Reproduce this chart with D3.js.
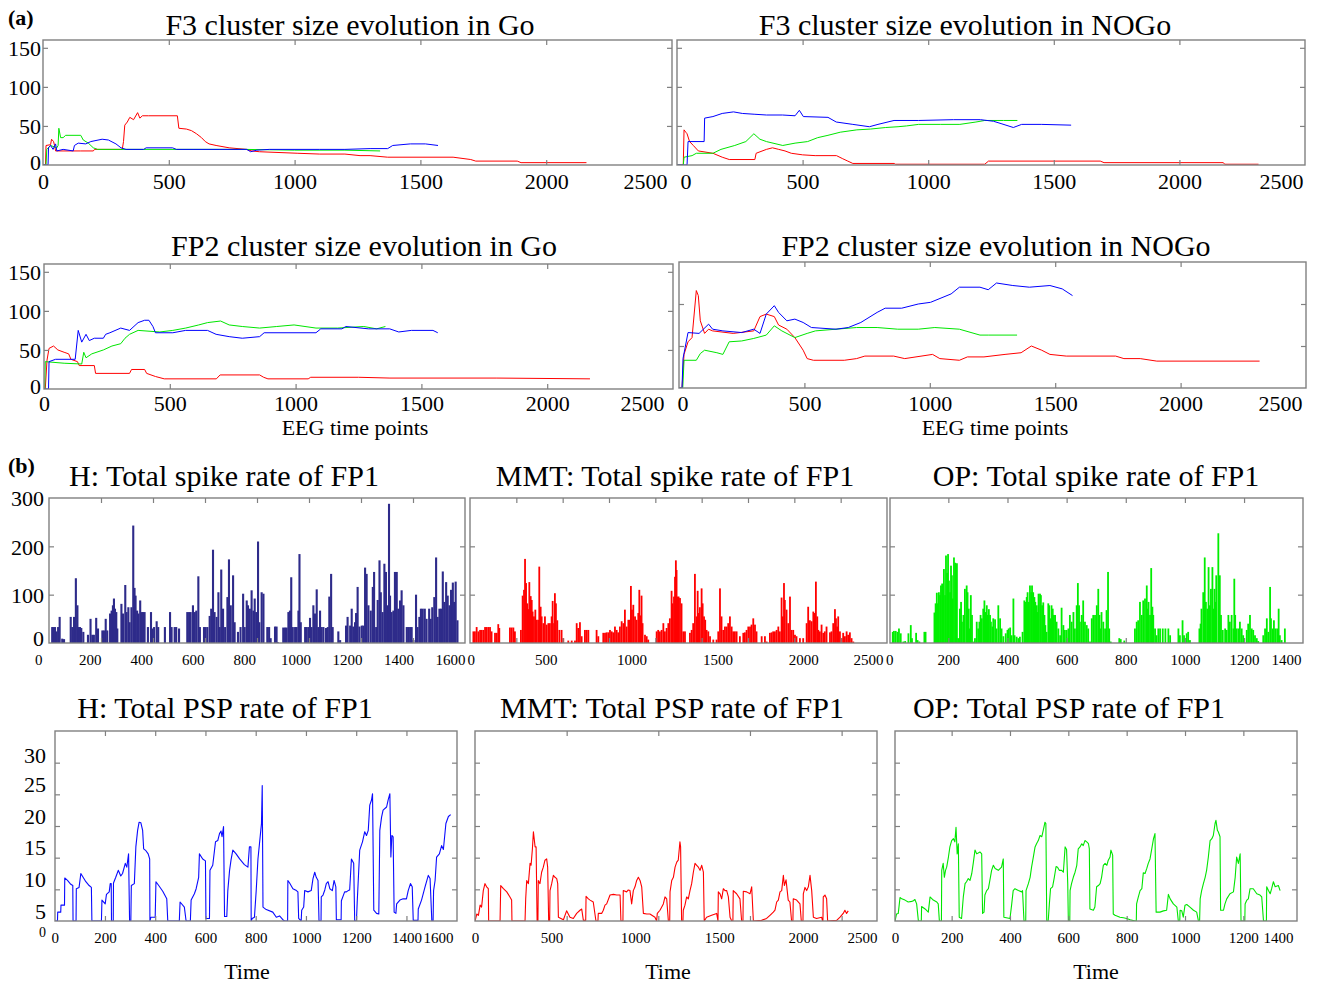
<!DOCTYPE html>
<meta charset="utf-8">
<body style="margin:0;background:#fff">
<script src="https://d3js.org/d3.v7.min.js"></script>
<script>

// ---------- tick labels ----------
var clusterXTicks = [0, 500, 1000, 1500, 2000, 2500];
var clusterYTicks = [0, 50, 100, 150];
var spikeYTicks = [0, 100, 200, 300];
var pspYTicks = [0, 5, 10, 15, 20, 25, 30];
var hTicks = [0, 200, 400, 600, 800, 1000, 1200, 1400, 1600];
var mmtTicks = [0, 500, 1000, 1500, 2000, 2500];
var opTicks = [0, 200, 400, 600, 800, 1000, 1200, 1400];

// ---------- (a) cluster size evolution ----------
var f3GoRed = [[0,0],[10,0],[12,25],[30,26],[34,33],[42,30],[46,25],[50,18],[150,18],[200,18],[205,20],[315,20],[320,30],[325,51],[335,55],[345,61],[360,58],[376,67],[385,60],[395,63],[420,63],[534,63],[540,47],[570,46],[590,44],[610,40],[630,35],[645,30],[660,27],[688,25],[740,22],[808,20],[830,18],[860,17],[1013,15],[1100,14],[1200,14],[1260,12],[1300,12],[1370,10],[1630,10],[1700,7],[1720,5],[1885,5],[1900,3],[2160,3]];
var f3GoGreen = [[0,0],[12,0],[15,20],[30,25],[55,22],[60,25],[63,47],[70,35],[80,35],[90,38],[150,38],[160,32],[180,28],[200,22],[217,20],[400,20],[600,20],[800,20],[1000,19],[1200,19],[1340,18]];
var f3GoBlue = [[0,0],[20,0],[22,22],[30,25],[40,20],[50,27],[55,18],[80,20],[120,18],[125,25],[140,28],[170,27],[190,30],[235,33],[260,32],[290,27],[310,22],[330,20],[400,20],[410,22],[515,22],[530,20],[700,20],[810,20],[825,17],[850,19],[900,20],[1100,20],[1200,20],[1300,21],[1370,21],[1390,25],[1460,27],[1520,27],[1570,25]];

var f3NoGoRed = [[0,0],[25,0],[28,45],[35,42],[40,40],[50,30],[65,25],[85,18],[143,15],[180,10],[208,7],[310,7],[315,15],[356,20],[380,22],[405,20],[430,18],[455,15],[500,13],[550,12],[635,12],[660,8],[680,5],[700,2],[865,2],[870,1],[1225,1],[1240,5],[1685,5],[1700,3],[2175,3],[2180,1],[2315,1]];
var f3NoGoGreen = [[0,0],[25,0],[28,10],[60,12],[77,15],[143,15],[175,20],[230,25],[274,30],[306,40],[330,33],[356,30],[421,25],[470,28],[520,30],[560,35],[601,38],[650,42],[716,45],[770,46],[831,48],[880,49],[913,50],[962,52],[1050,52],[1126,52],[1190,55],[1225,57],[1300,57],[1355,57]];
var f3NoGoBlue = [[0,0],[40,0],[44,30],[108,30],[110,60],[143,62],[180,66],[225,68],[260,66],[307,65],[356,64],[420,64],[470,63],[487,70],[503,62],[601,61],[634,55],[700,52],[766,49],[800,52],[864,57],[962,57],[1100,58],[1208,58],[1260,56],[1290,53],[1339,48],[1372,52],[1450,52],[1569,51]];

var fp2GoRed = [[0,0],[5,0],[12,37],[20,52],[38,55],[55,50],[80,47],[98,45],[107,38],[133,35],[140,30],[200,30],[205,20],[340,20],[348,25],[400,25],[408,20],[443,16],[478,13],[685,13],[700,18],[857,18],[873,15],[890,13],[1050,13],[1060,15],[1250,15],[1375,14],[1800,14],[2170,13]];
var fp2GoGreen = [[0,0],[3,0],[5,35],[80,33],[150,32],[158,47],[167,40],[190,45],[236,50],[270,55],[305,58],[322,65],[340,70],[374,75],[460,73],[512,75],[563,78],[615,82],[650,85],[702,87],[736,82],[788,80],[857,78],[925,80],[994,82],[1081,78],[1167,78],[1271,80],[1322,77],[1357,80]];
var fp2GoBlue = [[0,0],[18,0],[20,35],[46,38],[124,38],[136,75],[150,60],[167,70],[180,62],[200,65],[236,65],[245,70],[262,72],[305,78],[340,75],[374,85],[400,88],[417,88],[433,80],[443,72],[512,72],[563,75],[650,75],[684,70],[736,67],[788,65],[857,67],[875,72],[1081,72],[1100,77],[1184,77],[1200,80],[1290,77],[1374,77],[1410,73],[1460,75],[1546,75],[1565,72]];

var fp2NoGoRed = [[0,0],[12,0],[20,40],[36,55],[52,60],[69,116],[77,110],[85,80],[102,65],[118,70],[134,68],[216,65],[298,68],[323,85],[348,88],[380,85],[397,75],[430,70],[462,60],[495,45],[511,35],[536,33],[659,33],[708,35],[741,38],[856,38],[900,35],[1011,40],[1040,35],[1118,33],[1150,37],[1216,37],[1300,40],[1364,42],[1405,50],[1446,45],[1479,40],[1544,38],[1741,38],[1774,35],[1839,35],[1905,32],[2315,32]];
var fp2NoGoGreen = [[0,0],[15,0],[20,33],[69,33],[85,41],[102,45],[151,42],[175,40],[200,55],[250,56],[298,59],[348,63],[380,74],[410,68],[462,60],[511,65],[544,68],[626,70],[708,72],[790,72],[872,70],[954,70],[1020,72],[1118,70],[1200,63],[1233,63],[1348,63]];
var fp2NoGoBlue = [[0,0],[12,0],[16,35],[36,66],[80,65],[118,76],[134,70],[175,68],[250,66],[298,70],[323,65],[348,88],[380,98],[397,90],[430,80],[462,82],[495,78],[528,72],[626,70],[675,72],[725,78],[790,90],[822,95],[888,95],[954,100],[1003,102],[1085,112],[1118,120],[1200,120],[1233,117],[1266,125],[1331,122],[1397,120],[1479,122],[1528,118],[1569,110]];

// ---------- (b) total spike rate of FP1 ----------
var spikeH = [[54,33],[58,33],[65,33],[71,24],[77,33],[83,54],[93,9],[100,8],[126,54],[132,33],[139,54],[146,134],[152,78],[156,33],[162,33],[167,31],[175,23],[193,17],[203,50],[210,17],[216,17],[225,52],[232,30],[249,26],[255,26],[262,50],[268,26],[279,61],[285,67],[290,78],[294,92],[298,71],[303,64],[307,30],[323,81],[329,61],[338,120],[343,64],[350,74],[355,43],[362,74],[369,243],[374,114],[378,98],[384,67],[389,61],[396,88],[402,64],[407,64],[413,64],[426,33],[438,64],[443,30],[450,33],[460,45],[466,33],[492,33],[512,64],[518,33],[530,33],[536,33],[547,30],[579,64],[586,64],[592,64],[601,78],[608,64],[614,67],[622,138],[628,33],[644,33],[650,33],[657,33],[666,56],[672,71],[679,193],[685,64],[693,54],[700,105],[705,33],[711,152],[718,71],[726,33],[735,95],[741,173],[748,78],[757,140],[763,43],[776,23],[786,33],[796,102],[802,33],[810,88],[815,78],[822,71],[829,109],[836,67],[841,92],[847,64],[854,210],[859,43],[868,105],[875,102],[890,33],[897,33],[903,10],[920,34],[926,34],[930,2],[952,32],[959,32],[965,32],[972,64],[978,67],[983,136],[989,33],[998,33],[1004,33],[1011,67],[1015,184],[1020,43],[1037,33],[1043,33],[1050,33],[1056,52],[1062,33],[1069,78],[1075,61],[1082,111],[1088,33],[1095,67],[1101,33],[1108,33],[1118,31],[1125,33],[1131,96],[1138,143],[1144,33],[1166,24],[1173,6],[1196,36],[1202,54],[1212,36],[1218,71],[1224,34],[1231,43],[1235,62],[1241,116],[1248,34],[1257,36],[1263,36],[1270,156],[1276,143],[1283,78],[1292,67],[1300,116],[1305,147],[1313,33],[1319,89],[1326,171],[1331,105],[1338,64],[1345,164],[1351,147],[1358,78],[1363,288],[1367,98],[1373,64],[1380,67],[1386,147],[1393,147],[1399,71],[1406,88],[1412,109],[1419,78],[1432,33],[1438,33],[1445,33],[1451,33],[1458,6],[1468,100],[1474,33],[1481,54],[1487,71],[1494,71],[1502,71],[1509,50],[1519,71],[1525,50],[1531,74],[1539,95],[1546,177],[1552,54],[1559,71],[1565,71],[1572,148],[1578,85],[1585,126],[1591,98],[1598,78],[1604,110],[1611,125],[1616,85],[1622,127],[1629,47]];

var spikeMMT = [[78,24],[87,24],[97,33],[107,24],[117,27],[126,27],[136,27],[146,33],[155,33],[165,33],[175,33],[184,24],[204,21],[214,21],[223,39],[229,31],[291,32],[301,32],[311,32],[320,24],[355,27],[365,98],[373,110],[379,174],[385,124],[392,82],[398,70],[404,126],[412,97],[418,89],[423,65],[431,55],[439,69],[447,48],[456,48],[462,158],[470,75],[476,55],[486,41],[495,55],[505,38],[515,41],[524,41],[534,55],[540,87],[548,41],[553,103],[559,82],[567,47],[579,27],[592,27],[602,10],[631,5],[651,5],[670,5],[680,41],[689,31],[699,43],[709,14],[728,27],[738,27],[748,27],[796,27],[806,14],[835,21],[845,21],[854,22],[864,22],[874,27],[884,24],[893,22],[903,34],[913,27],[922,22],[932,34],[942,45],[952,41],[961,69],[971,34],[981,48],[990,48],[996,118],[1002,69],[1010,79],[1020,55],[1029,48],[1039,62],[1045,110],[1053,57],[1058,98],[1064,41],[1078,17],[1088,14],[1097,7],[1146,24],[1155,27],[1165,24],[1175,27],[1185,41],[1194,24],[1204,31],[1214,41],[1223,51],[1233,108],[1239,82],[1247,96],[1253,137],[1258,171],[1262,151],[1268,96],[1274,96],[1282,93],[1291,82],[1301,24],[1311,24],[1340,21],[1350,27],[1359,41],[1369,143],[1379,55],[1385,108],[1391,62],[1398,74],[1408,113],[1414,82],[1422,55],[1429,48],[1437,27],[1447,24],[1457,14],[1476,7],[1495,7],[1505,24],[1515,113],[1524,55],[1534,27],[1544,34],[1554,34],[1563,41],[1573,55],[1583,34],[1592,24],[1602,24],[1612,24],[1631,14],[1651,21],[1660,22],[1670,27],[1680,34],[1690,34],[1699,38],[1709,51],[1719,38],[1728,24],[1758,14],[1777,14],[1787,3],[1806,21],[1816,22],[1825,24],[1835,24],[1845,27],[1855,34],[1864,24],[1874,94],[1880,55],[1888,124],[1893,89],[1903,69],[1913,41],[1923,96],[1932,27],[1942,27],[1952,17],[1961,14],[1981,10],[2000,10],[2020,41],[2029,75],[2039,47],[2049,45],[2059,65],[2068,62],[2074,127],[2082,55],[2088,27],[2097,24],[2107,38],[2117,21],[2126,24],[2136,34],[2156,22],[2165,24],[2175,41],[2185,70],[2191,51],[2198,34],[2204,55],[2214,24],[2224,10],[2233,21],[2243,14],[2253,24],[2262,17],[2272,22],[2282,10],[2292,3]];

var spikeOP = [[12,23],[16,25],[22,25],[28,23],[33,30],[39,20],[48,3],[54,4],[65,20],[73,37],[77,10],[91,21],[96,6],[102,3],[119,23],[123,23],[153,63],[157,82],[161,104],[164,82],[168,105],[172,99],[175,119],[179,123],[181,112],[185,153],[189,99],[192,181],[196,145],[199,184],[202,129],[206,105],[209,160],[212,140],[215,92],[219,177],[223,166],[226,160],[229,165],[233,10],[239,71],[243,85],[246,44],[251,58],[256,112],[262,119],[265,105],[269,71],[273,30],[276,99],[280,58],[287,3],[290,10],[296,44],[301,30],[305,44],[309,58],[313,51],[318,71],[322,88],[325,64],[330,78],[333,58],[337,70],[341,58],[344,44],[349,34],[352,51],[358,49],[363,30],[369,78],[375,51],[380,30],[386,14],[394,20],[400,27],[404,30],[409,32],[414,16],[420,92],[424,16],[431,13],[437,10],[442,13],[451,23],[457,88],[460,85],[465,95],[468,105],[472,85],[476,119],[480,105],[483,119],[487,105],[491,95],[494,85],[499,78],[502,64],[505,102],[510,102],[513,99],[517,78],[521,84],[525,58],[528,37],[532,23],[538,82],[541,78],[546,51],[549,78],[553,71],[557,58],[561,58],[566,44],[572,30],[578,16],[583,73],[589,37],[594,27],[600,27],[606,30],[611,58],[617,44],[623,64],[628,30],[634,78],[638,124],[642,78],[645,44],[651,58],[656,88],[662,44],[668,37],[673,30],[679,3],[685,51],[690,58],[696,58],[702,78],[707,112],[711,58],[715,30],[718,64],[724,44],[730,30],[735,68],[740,147],[744,30],[749,3],[778,10],[783,8],[795,5],[831,30],[837,44],[842,47],[848,85],[854,58],[859,88],[865,92],[871,119],[874,71],[877,85],[882,58],[886,155],[890,75],[893,58],[899,30],[904,16],[910,30],[916,30],[925,30],[934,30],[944,30],[950,16],[978,30],[983,16],[992,47],[997,16],[1006,20],[1011,23],[1017,6],[1049,30],[1053,40],[1056,71],[1062,105],[1067,177],[1071,85],[1076,71],[1080,157],[1084,78],[1088,112],[1093,157],[1096,71],[1100,112],[1103,85],[1106,140],[1113,227],[1118,140],[1122,58],[1128,27],[1136,30],[1141,27],[1147,58],[1152,44],[1158,58],[1164,30],[1167,133],[1170,58],[1175,30],[1181,30],[1186,44],[1192,30],[1197,16],[1209,27],[1214,40],[1220,58],[1226,30],[1231,27],[1237,16],[1243,10],[1248,4],[1265,16],[1271,30],[1277,51],[1282,23],[1288,116],[1291,51],[1297,30],[1301,47],[1306,30],[1312,30],[1317,71],[1321,16],[1327,6],[1338,30]];

// ---------- (b) total PSP rate of FP1 ----------
var pspH = [[0,0],[11,0],[12,1.4],[24,1.4],[25,2.5],[39,2.5],[40,6.8],[51,6.4],[64,5.8],[72,5.6],[73,0],[85,0],[86,5.1],[97,5.3],[104,7.5],[110,7.1],[124,6.2],[137,5.6],[146,5.3],[148,0],[186,0],[188,3.3],[201,2.7],[206,4.2],[217,4.6],[221,5.9],[225,5.9],[226,0],[233,0],[234,6],[243,6.9],[253,8],[263,7.1],[270,7.5],[281,9.1],[287,8.5],[294,10.6],[298,0],[303,0],[305,5.6],[317,5.9],[323,11.7],[330,14.3],[336,15.6],[343,15.5],[350,14.3],[354,11.4],[363,11.1],[372,10.6],[378,9.8],[379,0],[383,0.6],[400,0.6],[403,6.2],[414,5.6],[430,4.7],[446,3.5],[450,0],[496,0],[499,3],[516,2.2],[523,0],[540,0],[543,3.3],[556,4.3],[563,5.1],[573,6.9],[576,10.6],[589,9.8],[600,9.5],[602,0.4],[616,0.4],[618,8],[629,8.8],[640,12.5],[649,12.7],[656,13.8],[662,14.2],[666,13.3],[672,14.9],[676,0.7],[685,0.7],[689,4.8],[696,8],[702,9.7],[709,11.2],[722,10.6],[736,9.8],[755,8.9],[769,8.5],[775,11.7],[781,11.7],[782,0],[786,0.4],[795,0.6],[802,4.8],[809,9.8],[815,12.2],[819,13.8],[823,15.4],[826,21.4],[829,2.2],[842,1.8],[868,1.4],[882,0.6],[895,0.8],[908,0.2],[915,0],[927,0],[928,6.4],[935,6],[948,5.1],[962,4.8],[968,4.6],[971,0.4],[981,0],[983,1.7],[991,2.2],[995,4.8],[1008,4.6],[1021,4.8],[1028,6.7],[1035,7.7],[1041,6.9],[1048,6.4],[1052,0],[1060,0],[1061,3.8],[1068,4.1],[1075,4.9],[1081,5.9],[1088,6.2],[1095,5.1],[1105,4.8],[1112,6.4],[1119,5.4],[1121,0.2],[1140,0.2],[1141,3.2],[1154,4.6],[1161,4.6],[1168,4.8],[1174,4.9],[1181,9.8],[1190,9.1],[1194,0],[1201,0],[1204,3],[1214,11.2],[1225,12.5],[1234,14.1],[1241,13.5],[1248,14.3],[1254,18.3],[1261,19.1],[1265,20.1],[1270,1.7],[1281,1.2],[1290,1.1],[1294,14.3],[1301,16.4],[1307,17.5],[1321,18],[1327,19.1],[1334,20.1],[1338,10.1],[1342,13.5],[1347,13.3],[1351,1.4],[1358,1.2],[1361,2.7],[1374,3.3],[1387,3.5],[1400,3.5],[1407,4.8],[1416,5.9],[1423,5.4],[1427,0.1],[1446,0.1],[1447,1.9],[1460,3.3],[1474,5.4],[1487,7.2],[1494,6.7],[1501,0],[1506,0],[1508,4.8],[1514,6.4],[1520,10.1],[1531,10.6],[1540,11.9],[1547,11.3],[1557,15.4],[1567,16.5],[1576,16.8]];

var pspMMT = [[44,0],[54,1.1],[64,0.9],[74,2.5],[83,2.2],[93,4.8],[103,5.9],[113,5.4],[123,5.1],[125,0],[193,0],[197,5.6],[213,5.1],[233,4.6],[252,3.8],[262,3.3],[264,0],[342,0],[346,3.5],[352,6.4],[362,5.9],[372,9.1],[378,8.8],[386,11.4],[392,14.1],[402,11.7],[408,11.7],[414,0],[419,0],[421,6.4],[431,5.9],[441,7.7],[451,8.5],[461,9.6],[471,9.8],[477,8.5],[483,0],[489,0],[491,4.8],[501,5.9],[511,7.2],[521,6.9],[531,6.7],[537,5.9],[541,0.6],[571,0.2],[590,1.6],[610,0.6],[630,0.4],[650,1.2],[670,1.7],[680,1.9],[690,0.1],[704,0.1],[706,3.9],[720,3.5],[730,3.3],[749,3],[765,0],[777,0],[779,1.2],[799,1.2],[809,1.7],[819,2.5],[829,2.7],[849,4.1],[869,4.2],[889,4.1],[909,4.1],[914,0],[926,0],[928,4.8],[948,4.6],[958,4.9],[968,4.8],[978,2.7],[988,4.8],[998,5.4],[1008,6.4],[1018,6.9],[1028,6.4],[1038,5.4],[1048,1.2],[1068,1.1],[1087,1.1],[1117,0.6],[1127,0],[1131,1.2],[1147,1.7],[1167,2.7],[1177,3.8],[1187,3.5],[1197,0],[1205,0],[1207,4.6],[1217,6.4],[1227,6.9],[1237,8.5],[1247,9.3],[1256,9.6],[1266,12.5],[1270,11.7],[1276,0],[1284,0],[1286,1.7],[1296,2.5],[1306,3.8],[1316,3.5],[1326,4.8],[1336,5.9],[1346,7.7],[1356,9.1],[1366,8.8],[1376,8.5],[1386,8],[1396,8.8],[1406,7.7],[1411,0],[1425,0.6],[1455,0.9],[1485,1.2],[1493,0],[1495,4.6],[1505,4.3],[1515,3.5],[1525,5.1],[1535,4.8],[1545,4.8],[1555,3.8],[1565,0.6],[1575,0],[1582,0],[1584,4.8],[1604,4.3],[1624,3.5],[1634,0],[1642,0],[1644,4.7],[1664,4.6],[1684,4.3],[1694,5.4],[1704,0],[1753,0.1],[1783,0.4],[1803,0.9],[1823,1.4],[1833,1.7],[1843,3],[1853,3.3],[1863,4.6],[1873,4.8],[1883,7.2],[1889,5.6],[1899,6.5],[1912,3.3],[1922,3],[1932,0],[1940,0],[1942,3.5],[1962,3.3],[1982,2.7],[1990,0],[2000,0],[2002,4.3],[2012,5.3],[2022,4.8],[2032,5.4],[2042,7.2],[2052,4.8],[2062,0.6],[2081,0.4],[2111,0.6],[2117,0],[2119,0],[2121,3.8],[2131,4.1],[2141,3.5],[2147,0],[2201,0.1],[2221,0.6],[2240,1.2],[2250,1.7],[2260,1.2],[2270,1.6]];

var pspOP = [[6,0],[11,1.1],[17,1.2],[23,3.7],[29,3.5],[40,3.3],[51,3],[63,3.1],[69,3.2],[74,3.4],[80,2.7],[86,0],[96,0],[97,2.3],[109,1.9],[120,1.4],[126,3.8],[137,3.3],[149,3],[154,2.7],[158,0],[165,0],[166,8],[171,9.1],[175,6.9],[179,8],[183,8.5],[189,10.1],[194,11.7],[200,12.7],[206,13],[211,12.5],[215,14.8],[219,10.6],[223,12.2],[226,0.6],[234,0.4],[240,3.8],[246,5.9],[251,6.2],[257,6.7],[263,6.4],[269,7.5],[274,9.1],[280,11.2],[286,10.6],[297,10.9],[303,10.6],[306,1.2],[311,1.4],[314,4.1],[320,4.8],[326,5.1],[331,6.4],[337,8],[343,8.8],[349,8.3],[360,8],[371,8.5],[377,9.8],[379,0.6],[400,0.4],[406,2.7],[411,4.8],[417,5.1],[429,4.8],[440,4.6],[443,4.8],[448,0],[454,0],[455,4.8],[463,5.9],[469,6.9],[474,8.5],[480,10.1],[486,11.7],[491,12.2],[497,12.7],[503,13.5],[509,13.3],[514,14.3],[520,15.6],[523,15.4],[526,0],[531,0],[535,2.7],[539,5.1],[546,5.4],[552,6.9],[558,8.6],[563,8.5],[569,8],[577,8],[583,7.7],[589,11.7],[594,11.3],[598,5.9],[600,0],[605,0],[606,4.8],[611,5.9],[617,6.9],[623,7.7],[629,8.8],[634,11.4],[640,11.7],[646,12.2],[651,11.9],[657,12.7],[663,12.5],[669,12.2],[672,11.4],[674,1.9],[686,1.7],[691,2.2],[697,5.4],[703,5.6],[709,5.9],[714,6.9],[720,8.8],[726,9.1],[732,8.8],[737,9.6],[743,10.1],[746,11.2],[752,10.4],[754,1.1],[760,0.9],[777,0.6],[789,0.5],[800,0.4],[812,0.2],[829,0],[833,0],[834,2.7],[840,3.8],[846,4.8],[852,5.1],[857,7.6],[863,7.5],[869,8.3],[874,9.1],[880,9.8],[886,11.4],[892,13],[897,13.8],[901,1.4],[914,1.4],[926,1.6],[937,1.7],[943,4.2],[949,3.5],[960,2.7],[972,2.2],[977,0],[982,0],[983,1.7],[989,1.6],[994,0.6],[1000,2.5],[1006,2.6],[1017,2.2],[1029,1.7],[1040,1.4],[1046,0],[1050,0],[1052,3.5],[1057,4.8],[1063,5.9],[1069,6.9],[1074,8],[1080,10.1],[1086,12.7],[1092,13],[1097,13.5],[1103,15.4],[1106,15.9],[1111,14.3],[1114,14.1],[1120,13.3],[1122,1.7],[1132,1.7],[1137,2.7],[1143,3.5],[1154,4.3],[1166,4.6],[1172,6.9],[1177,10.1],[1183,9.1],[1189,10.6],[1192,0],[1205,0],[1206,2.7],[1212,3.3],[1217,3.5],[1223,5.1],[1234,5.1],[1246,4.3],[1257,4.1],[1263,3.8],[1269,0],[1279,0],[1280,5.4],[1286,4.8],[1292,4.3],[1297,5.1],[1303,6.2],[1309,5.4],[1320,5.6],[1326,4.8]];

// ---------- drawing ----------
var serif = '"Liberation Serif","Times New Roman",Times,serif';
var frameColor = "#808080";
var plain = d3.format("d");

var svg = d3.select("body").append("svg")
    .attr("width", 1318)
    .attr("height", 983)
    .style("background", "#fff");

var clipId = 0;

function panel(p) {
  var x = d3.scaleLinear().domain(p.xDomain).range(p.xRange);
  var y = d3.scaleLinear().domain(p.yDomain).range([p.B, p.T]);
  var g = svg.append("g");

  var id = "clip" + (clipId++);
  svg.append("clipPath").attr("id", id)
    .append("rect")
      .attr("x", p.L).attr("y", p.T)
      .attr("width", p.R - p.L).attr("height", p.B - p.T);
  var plot = g.append("g").attr("clip-path", "url(#" + id + ")");

  if (p.bars) {
    var bw = p.bars.width || 1.8;
    plot.selectAll("rect.bar")
      .data(p.bars.data)
      .enter().append("rect")
        .attr("class", "bar")
        .attr("x", function(d) { return x(d[0]) - bw / 2; })
        .attr("width", bw)
        .attr("y", function(d) { return y(d[1]); })
        .attr("height", function(d) { return y(0) - y(d[1]); })
        .attr("fill", p.bars.color);
  }

  var line = d3.line()
    .x(function(d) { return x(d[0]); })
    .y(function(d) { return y(d[1]); });
  (p.lines || []).forEach(function(s) {
    plot.append("path")
      .datum(s.data)
      .attr("d", line)
      .attr("fill", "none")
      .attr("stroke", s.color)
      .attr("stroke-width", s.width || 1)
      .attr("stroke-linejoin", "round");
  });

  // frame
  g.append("rect")
    .attr("x", p.L).attr("y", p.T)
    .attr("width", p.R - p.L).attr("height", p.B - p.T)
    .attr("fill", "none")
    .attr("stroke", frameColor)
    .attr("stroke-width", 1.4);

  // inner tick marks
  var fx = p.markFrac ? d3.scaleLinear().domain([0, 1]).range([p.L, p.R]) : x;
  var mx = p.markFrac || p.marksX;
  var marks = [
    [d3.axisBottom(fx).tickValues(mx), "translate(0," + p.B + ")"],
    [d3.axisTop(fx).tickValues(mx), "translate(0," + p.T + ")"],
    [d3.axisLeft(y).tickValues(p.marksY), "translate(" + p.L + ",0)"],
    [d3.axisRight(y).tickValues(p.marksY), "translate(" + p.R + ",0)"]
  ];
  marks.forEach(function(m) {
    var a = g.append("g").attr("transform", m[1])
      .call(m[0].tickSize(-5).tickFormat(""));
    a.select(".domain").remove();
    a.selectAll("line").attr("stroke", frameColor).attr("stroke-width", 1.2);
  });

  // x tick labels
  var ax = g.append("g")
    .attr("transform", "translate(0," + p.xLabelY + ")")
    .call(d3.axisBottom(x).tickValues(p.xLabels).tickFormat(plain).tickSize(0).tickPadding(0));
  ax.select(".domain").remove();
  ax.selectAll("text")
    .attr("y", 0).attr("dy", null)
    .attr("fill", "#000")
    .style("font-family", serif)
    .style("font-size", p.xFont + "px");
  var n = p.xLabels.length;
  ax.selectAll(".tick text").each(function(d, i) {
    var t = d3.select(this);
    if (i === 0 && p.firstLabel) t.attr("text-anchor", p.firstLabel.anchor).attr("x", p.firstLabel.x - x(d));
    if (i === n - 1 && p.lastLabel) t.attr("text-anchor", p.lastLabel.anchor).attr("x", p.lastLabel.x - x(d));
  });

  // y tick labels
  if (p.yLabels) {
    var ay = g.append("g")
      .attr("transform", "translate(" + p.yLabelX + ",0)")
      .call(d3.axisLeft(y).tickValues(p.yLabels).tickFormat(plain).tickSize(0).tickPadding(0));
    ay.select(".domain").remove();
    ay.selectAll("text")
      .attr("dy", "0.35em")
      .attr("fill", "#000")
      .attr("y", function(d) { return p.yLabelShift ? p.yLabelShift(d) : 0; })
      .style("font-family", serif)
      .style("font-size", function(d) { return (p.yLabelSize ? p.yLabelSize(d) : 22) + "px"; });
  }

  // title
  g.append("text")
    .attr("x", p.titleX).attr("y", p.titleY)
    .attr("text-anchor", "middle")
    .style("font-family", serif)
    .style("font-size", "30px")
    .text(p.title);

  if (p.xTitle) {
    g.append("text")
      .attr("x", p.xTitle.x).attr("y", p.xTitle.y)
      .attr("text-anchor", "middle")
      .style("font-family", serif)
      .style("font-size", "22px")
      .text(p.xTitle.text);
  }
}

var RED = "#ff0000", GREEN = "#00e600", BLUE = "#0000ff";
var zeroUp = function(d) { return d === 0 ? -3 : 0; };

// ----- (a) -----
panel({
  L: 43, R: 672, T: 40, B: 165, xDomain: [0, 2500], xRange: [43, 672], yDomain: [0, 160],
  marksX: [500, 1000, 1500, 2000], marksY: [50, 100, 150],
  xLabels: clusterXTicks, xLabelY: 189, xFont: 22, lastLabel: {anchor: "end", x: 667},
  yLabels: clusterYTicks, yLabelX: 41, yLabelShift: zeroUp,
  title: "F3 cluster size evolution in Go", titleX: 350, titleY: 35,
  lines: [{data: f3GoRed, color: RED}, {data: f3GoGreen, color: GREEN}, {data: f3GoBlue, color: BLUE}]
});
panel({
  L: 677, R: 1305, T: 40, B: 165, xDomain: [0, 2500], xRange: [677, 1305], yDomain: [0, 160],
  marksX: [500, 1000, 1500, 2000], marksY: [50, 100, 150],
  xLabels: clusterXTicks, xLabelY: 189, xFont: 22,
  firstLabel: {anchor: "start", x: 680}, lastLabel: {anchor: "end", x: 1303},
  title: "F3 cluster size evolution in NOGo", titleX: 965, titleY: 35,
  lines: [{data: f3NoGoRed, color: RED}, {data: f3NoGoGreen, color: GREEN}, {data: f3NoGoBlue, color: BLUE}]
});
panel({
  L: 44, R: 673, T: 264, B: 389, xDomain: [0, 2500], xRange: [44, 673], yDomain: [0, 160],
  marksX: [500, 1000, 1500, 2000], marksY: [50, 100, 150],
  xLabels: clusterXTicks, xLabelY: 411, xFont: 22, lastLabel: {anchor: "end", x: 664},
  yLabels: clusterYTicks, yLabelX: 41, yLabelShift: zeroUp,
  title: "FP2 cluster size evolution in Go", titleX: 364, titleY: 256,
  xTitle: {text: "EEG time points", x: 355, y: 435},
  lines: [{data: fp2GoRed, color: RED}, {data: fp2GoGreen, color: GREEN}, {data: fp2GoBlue, color: BLUE}]
});
panel({
  L: 679, R: 1306, T: 262, B: 388, xDomain: [0, 2500], xRange: [679, 1306], yDomain: [0, 150],
  marksX: [500, 1000, 1500, 2000], marksY: [50, 100],
  xLabels: clusterXTicks, xLabelY: 411, xFont: 22,
  firstLabel: {anchor: "start", x: 677}, lastLabel: {anchor: "end", x: 1302},
  title: "FP2 cluster size evolution in NOGo", titleX: 996, titleY: 256,
  xTitle: {text: "EEG time points", x: 995, y: 435},
  lines: [{data: fp2NoGoRed, color: RED}, {data: fp2NoGoGreen, color: GREEN}, {data: fp2NoGoBlue, color: BLUE}]
});

// ----- (b) spike rate -----
panel({
  L: 49, R: 465, T: 498, B: 643, xDomain: [0, 1600], xRange: [38.3, 450], yDomain: [0, 300],
  markFrac: [1/8, 2/8, 3/8, 4/8, 5/8, 6/8, 7/8], marksY: [100, 200],
  xLabels: hTicks, xLabelY: 665, xFont: 15,
  yLabels: spikeYTicks, yLabelX: 44, yLabelShift: function(d) { return d === 0 ? -5 : 0; },
  title: "H: Total spike rate of FP1", titleX: 224, titleY: 486,
  bars: {data: spikeH, color: "#2e2b8a", width: 2.1}
});
panel({
  L: 470, R: 887, T: 498, B: 643, xDomain: [0, 2500], xRange: [460, 889], yDomain: [0, 300],
  markFrac: [1/9, 2/9, 3/9, 4/9, 5/9, 6/9, 7/9, 8/9], marksY: [100, 200],
  xLabels: mmtTicks, xLabelY: 665, xFont: 15,
  firstLabel: {anchor: "start", x: 467}, lastLabel: {anchor: "end", x: 883},
  title: "MMT: Total spike rate of FP1", titleX: 675, titleY: 486,
  bars: {data: spikeMMT, color: "#ff0000"}
});
panel({
  L: 890, R: 1303, T: 498, B: 643, xDomain: [0, 1400], xRange: [889.2, 1303.2], yDomain: [0, 300],
  marksX: [200, 400, 600, 800, 1000, 1200], marksY: [100, 200],
  xLabels: opTicks, xLabelY: 665, xFont: 15, lastLabel: {anchor: "end", x: 1301},
  title: "OP: Total spike rate of FP1", titleX: 1096, titleY: 486,
  bars: {data: spikeOP, color: "#00ee00"}
});

// ----- (b) PSP rate -----
panel({
  L: 55, R: 457, T: 731, B: 921, xDomain: [0, 1600], xRange: [54.7, 456.7], yDomain: [0, 30],
  marksX: [200, 400, 600, 800, 1000, 1200, 1400], marksY: [5, 10, 15, 20, 25],
  xLabels: hTicks, xLabelY: 943, xFont: 15, lastLabel: {anchor: "end", x: 453},
  yLabels: pspYTicks, yLabelX: 46,
  yLabelShift: function(d) { return d === 0 ? 11 : (d === 30 ? 24 : 21); },
  yLabelSize: function(d) { return d === 0 ? 14 : 22; },
  title: "H: Total PSP rate of FP1", titleX: 225, titleY: 718,
  xTitle: {text: "Time", x: 247, y: 979},
  lines: [{data: pspH, color: "#0a0aff", width: 1.1}]
});
panel({
  L: 475, R: 877, T: 731, B: 921, xDomain: [0, 2500], xRange: [467.7, 886.8], yDomain: [0, 30],
  markFrac: [0.228, 0.456, 0.684, 0.912], marksY: [5, 10, 15, 20, 25],
  xLabels: mmtTicks, xLabelY: 943, xFont: 15,
  firstLabel: {anchor: "middle", x: 475}, lastLabel: {anchor: "end", x: 877},
  title: "MMT: Total PSP rate of FP1", titleX: 672, titleY: 718,
  xTitle: {text: "Time", x: 668, y: 979},
  lines: [{data: pspMMT, color: "#ff0000", width: 1.1}]
});
panel({
  L: 895, R: 1297, T: 731, B: 921, xDomain: [0, 1400], xRange: [893.3, 1301.7], yDomain: [0, 30],
  marksX: [200, 400, 600, 800, 1000, 1200], marksY: [5, 10, 15, 20, 25],
  xLabels: opTicks, xLabelY: 943, xFont: 15,
  firstLabel: {anchor: "middle", x: 895}, lastLabel: {anchor: "end", x: 1293},
  title: "OP: Total PSP rate of FP1", titleX: 1069, titleY: 718,
  xTitle: {text: "Time", x: 1096, y: 979},
  lines: [{data: pspOP, color: "#00e600", width: 1.1}]
});

// panel letters
svg.append("text").attr("x", 8).attr("y", 25)
  .style("font-family", serif).style("font-size", "22px").style("font-weight", "bold")
  .text("(a)");
svg.append("text").attr("x", 8).attr("y", 473)
  .style("font-family", serif).style("font-size", "22px").style("font-weight", "bold")
  .text("(b)");

</script>
</body>
